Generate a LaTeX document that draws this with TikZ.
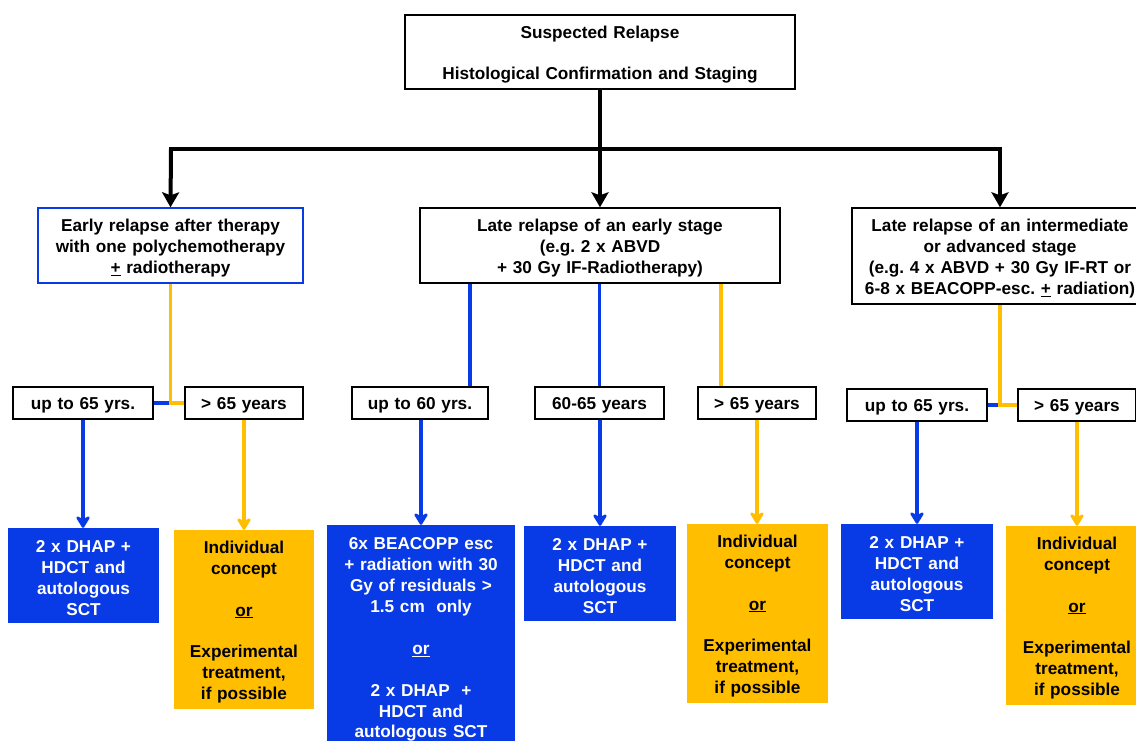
\documentclass[tikz,border=0pt]{standalone}
\usepackage{fontspec}
\setmainfont{Liberation Sans}
\usetikzlibrary{arrows.meta}
\definecolor{bl}{RGB}{8,58,230}
\definecolor{yl}{RGB}{255,190,0}
\frenchspacing
\begin{document}
\begin{tikzpicture}[x=1pt,y=-1pt,
  font=\fontsize{17.2}{20.9}\selectfont\bfseries,
  lowtext/.style={execute at begin node={\rule{0pt}{17.5pt}}},
  sz/.style n args={2}{minimum width=#1pt, minimum height=#2pt, text width=#1pt-6pt},
  box/.style={draw=black, line width=1.4pt, inner sep=0pt, align=center, fill=white, lowtext},
  bbox/.style={box, draw=bl},
  res/.style={inner sep=0pt, align=center, fill=bl, text=white, lowtext},
  yres/.style={inner sep=0pt, align=center, fill=yl, text=black, lowtext},
  blk/.style={line width=4pt, black},
  blkarr/.style={blk, -{Stealth[width=17pt,length=15pt,inset=3pt]}},
  bline/.style={line width=3.5pt, draw=bl},
  yline/.style={line width=3.5pt, draw=yl},
  barr/.style={bline, -{Stealth[width=17pt,length=14pt,inset=4pt,round]}},
  yarr/.style={yline, -{Stealth[width=17pt,length=14pt,inset=4pt,round]}}
]
\useasboundingbox (0,0) rectangle (1136,740);

% top
\node[box, sz={390}{74}] (top) at (600,52)
  {Suspected Relapse\\[20.2pt]Histological Confirmation and Staging};

% second level
\node[bbox, sz={265}{75}] (A) at (170.5,245.5)
  {Early relapse after therapy\\with one polychemotherapy\\\underline{+} radiotherapy};
\node[box, sz={360}{75}] (B) at (600,245.5)
  {Late relapse of an early stage\\(e.g. 2 x ABVD\\+ 30 Gy IF-Radiotherapy)};
\node[box, sz={296}{96}] (C) at (1000,256)
  {Late relapse of an intermediate\\or advanced stage\\(e.g. 4 x ABVD + 30 Gy IF-RT or\\6-8 x BEACOPP-esc. \underline{+} radiation)};

\coordinate (hL) at (171,149);
\coordinate (hR) at (1000,149);
\coordinate (hM) at (600,149);

% age boxes
\node[box, sz={140}{32}] (a1) at (83,403) {up to 65 yrs.};
\node[box, sz={118}{32}] (a2) at (244,403) {> 65 years};
\node[box, sz={136}{32}] (b1) at (420,403) {up to 60 yrs.};
\node[box, sz={129}{32}] (b2) at (599.5,403) {60-65 years};
\node[box, sz={118}{32}] (b3) at (757,403) {> 65 years};
\node[box, sz={140}{32}] (c1) at (917,405) {up to 65 yrs.};
\node[box, sz={118}{32}] (c2) at (1077,405) {> 65 years};

% results
\node[res, sz={151}{95}] (r1) at (83.5,575.5)
  {2 x DHAP +\\HDCT and\\autologous\\SCT};
\node[yres, sz={140}{179}] (r2) at (244,619.5)
  {Individual\\concept\\[20.9pt]\underline{or}\\[20.9pt]Experimental\\treatment,\\if possible};
\node[res, sz={188}{224}] (r3) at (421,637)
  {6x BEACOPP esc\\+ radiation with 30\\Gy of residuals >\\1.5 cm\ \ only\\[20.9pt]\underline{or}\\[20.9pt]2 x DHAP\ \ +\\HDCT and\\autologous SCT};
\node[res, sz={152}{95}] (r4) at (600,573.5)
  {2 x DHAP +\\HDCT and\\autologous\\SCT};
\node[yres, sz={141}{179}] (r5) at (757.5,613.5)
  {Individual\\concept\\[20.9pt]\underline{or}\\[20.9pt]Experimental\\treatment,\\if possible};
\node[res, sz={152}{95}] (r6) at (917,571.5)
  {2 x DHAP +\\HDCT and\\autologous\\SCT};
\node[yres, sz={142}{179}] (r7) at (1077,615.5)
  {Individual\\concept\\[20.9pt]\underline{or}\\[20.9pt]Experimental\\treatment,\\if possible};

% black connectors
\draw[blk] (top.south) -- (hM);
\draw[blk, line cap=rect] (hL) -- (hR);
\draw[blkarr] (hL) -- (A.north);
\draw[blkarr] (hM) -- (B.north);
\draw[blkarr] (hR) -- (C.north);

% A branch
\draw[bline] (A.south) |- (a1.east);
\draw[yline] (A.south) |- (a2.west);
% B branch
\draw[bline] ([xshift=50pt]b1.north |- B.south) -- ([xshift=50pt]b1.north);
\draw[bline] (b2.north |- B.south) -- (b2.north);
\draw[yline] ([xshift=-36pt]b3.north |- B.south) -- ([xshift=-36pt]b3.north);
% C branch
\draw[bline] (C.south) |- (c1.east);
\draw[yline] (C.south) |- (c2.west);

% arrows to results
\draw[barr] (a1.south) -- (a1.south |- r1.north);
\draw[yarr] (a2.south) -- (a2.south |- r2.north);
\draw[barr] ([xshift=1pt]b1.south) -- ([xshift=1pt]b1.south |- r3.north);
\draw[barr] ([xshift=0.5pt]b2.south) -- ([xshift=0.5pt]b2.south |- r4.north);
\draw[yarr] (b3.south) -- (b3.south |- r5.north);
\draw[barr] (c1.south) -- (c1.south |- r6.north);
\draw[yarr] (c2.south) -- (c2.south |- r7.north);
\end{tikzpicture}
\end{document}
